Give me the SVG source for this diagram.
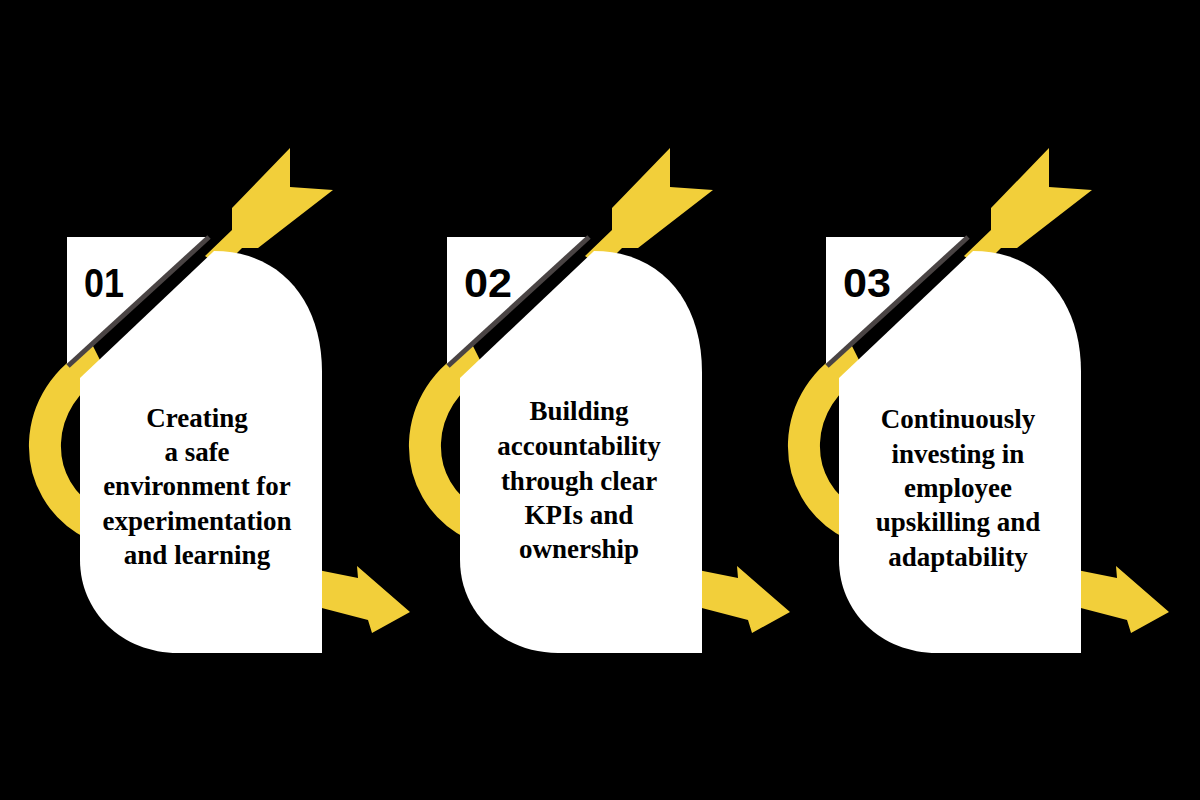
<svg xmlns="http://www.w3.org/2000/svg" width="1200" height="800" viewBox="0 0 1200 800">
<style>
.y{fill:#f2cf3a}
.band{fill:none;stroke:#f2cf3a;stroke-width:32}
.w{fill:#fff}
.ln{stroke:#4a4444;stroke-width:5}
.num{font-family:"Liberation Sans",sans-serif;font-weight:bold;font-size:40px;fill:#000}
.t{font-family:"Liberation Serif",serif;font-weight:bold;font-size:27px;fill:#000;text-anchor:middle}
</style>
<defs>
<g id="card">
<path class="band" d="M100,360 C30,395 25,490 95,525"/>
<polygon class="y" points="205,256 232,230 232,208 290,148 290,187 333,190 258,248 242,248 222,268"/>
<polygon class="y" points="318,570 358,578 357,566 410,612 372,633 368,620 318,607"/>
<path class="w" d="M67,237 L207,237 L67,365 Z"/>
<path class="w" d="M80,378 L214,251 C280,251 322,300 322,372 L322,653 L178,653 C122,653 80,612 80,560 Z"/>
<line class="ln" x1="209" y1="237" x2="68" y2="366"/>
</g>
</defs>
<rect width="1200" height="800" fill="#000"/>
<g id="node1">
<use href="#card"/>
<text class="num" x="84" y="297" textLength="40" lengthAdjust="spacingAndGlyphs">01</text>
<text class="t" x="197"><tspan x="197" y="427">Creating</tspan><tspan x="197" y="461">a safe</tspan><tspan x="197" y="495">environment for</tspan><tspan x="197" y="530">experimentation</tspan><tspan x="197" y="564">and learning</tspan></text>
</g>
<g id="node2" >
<use href="#card" x="380"/>
<text class="num" x="464" y="297" textLength="48" lengthAdjust="spacingAndGlyphs">02</text>
<text class="t"><tspan x="579" y="420">Building</tspan><tspan x="579" y="455">accountability</tspan><tspan x="579" y="490">through clear</tspan><tspan x="579" y="524">KPIs and</tspan><tspan x="579" y="558">ownership</tspan></text>
</g>
<g id="node3">
<use href="#card" x="759"/>
<text class="num" x="843" y="297" textLength="48" lengthAdjust="spacingAndGlyphs">03</text>
<text class="t"><tspan x="958" y="428">Continuously</tspan><tspan x="958" y="463">investing in</tspan><tspan x="958" y="497">employee</tspan><tspan x="958" y="531">upskilling and</tspan><tspan x="958" y="566">adaptability</tspan></text>
</g>
<g id="connectors"/>
</svg>
